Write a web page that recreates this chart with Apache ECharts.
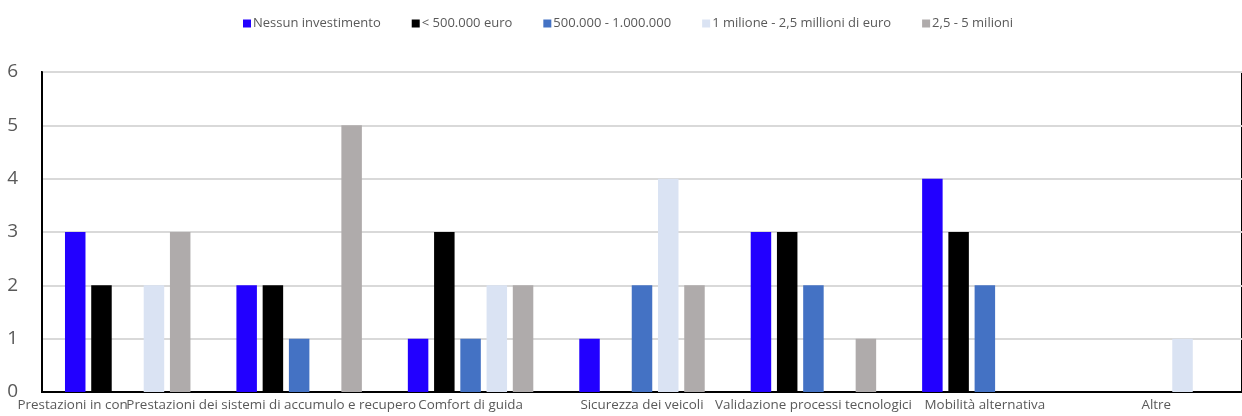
<!DOCTYPE html>
<html>
<head>
<meta charset="utf-8">
<script src="https://cdn.jsdelivr.net/npm/echarts@6/dist/echarts.min.js"></script>
<style>
  html, body { margin: 0; padding: 0; background: #ffffff; }
  #chart { width: 1242px; height: 416px; }
</style>
</head>
<body>
<div id="chart"></div>
<script>
// Investment areas and number of answers for each investment band
const categories = [
  'Prestazioni in con',
  'Prestazioni dei sistemi di accumulo e recupero',
  'Comfort di guida',
  'Sicurezza dei veicoli',
  'Validazione processi tecnologici',
  'Mobilità alternativa',
  'Altre'
];
const seriesNames = [
  'Nessun investimento',
  '< 500.000 euro',
  '500.000 - 1.000.000',
  '1 milione - 2,5 millioni di euro',
  '2,5 - 5 milioni'
];
const nessunInvestimento = [3, 2, 1, 1, 3, 4, 0];
const menoDi500k        = [2, 2, 3, 0, 3, 3, 0];
const da500kA1M         = [0, 1, 1, 2, 2, 2, 0];
const da1MA2_5M         = [2, 0, 2, 4, 0, 0, 1];
const da2_5MA5M         = [3, 5, 2, 2, 1, 0, 0];
const yTicks = [0, 1, 2, 3, 4, 5, 6];

const values = [nessunInvestimento, menoDi500k, da500kA1M, da1MA2_5M, da2_5MA5M];
const colors = ['#2200ff', '#000000', '#4472c4', '#dae3f3', '#afabab'];

// Per-label placement tweaks for the crowded first two labels
const labelStyles = [
  { align: 'right' },
  { padding: [0, 56, 0, 0] },
  null, null, null, null, null
];
const categoryData = categories.map((c, i) =>
  labelStyles[i] ? { value: c, textStyle: labelStyles[i] } : c
);

const chart = echarts.init(document.getElementById('chart'), null, { renderer: 'canvas' });
chart.setOption({
  animation: false,
  backgroundColor: '#ffffff',
  textStyle: { fontFamily: 'Open Sans' },
  legend: {
    top: 12,
    left: 238,
    itemWidth: 8,
    itemHeight: 8,
    itemGap: 31,
    icon: 'rect',
    textStyle: { fontFamily: 'Open Sans', fontSize: 13, color: '#595959', padding: [0, 0, 0, -3] },
    data: seriesNames
  },
  grid: {
    left: 42,
    top: 72,
    width: 1202,
    height: 320,
    show: true,
    borderColor: '#000000',
    borderWidth: 2,
    backgroundColor: 'transparent',
    containLabel: false
  },
  xAxis: {
    type: 'category',
    data: categoryData,
    axisLine: { show: true, lineStyle: { color: '#000000', width: 2 } },
    axisTick: { show: false },
    axisLabel: {
      interval: 0,
      hideOverlap: false,
      margin: 7,
      fontFamily: 'Open Sans',
      fontSize: 13.4,
      color: '#595959'
    },
    splitLine: { show: false }
  },
  yAxis: {
    type: 'value',
    min: yTicks[0],
    max: yTicks[yTicks.length - 1],
    interval: 1,
    axisLine: { show: true, lineStyle: { color: '#000000', width: 2 } },
    axisTick: { show: false },
    axisLabel: {
      margin: 24,
      fontFamily: 'Open Sans',
      fontSize: 19,
      color: '#595959'
    },
    splitLine: { show: true, lineStyle: { color: '#d9d9d9', width: 2 } }
  },
  series: seriesNames.map((name, i) => ({
    name: name,
    type: 'bar',
    data: values[i],
    barWidth: 20.5,
    barGap: '28%',
    itemStyle: { color: colors[i] }
  }))
});
</script>
</body>
</html>
